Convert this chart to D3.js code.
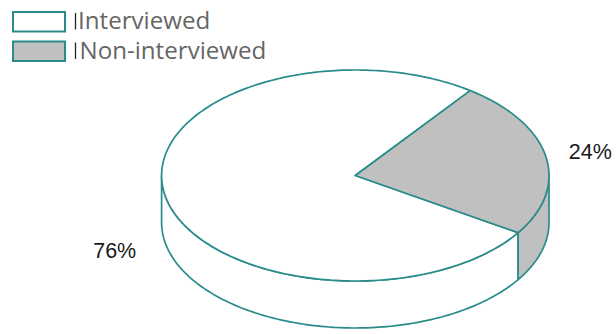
<!DOCTYPE html>
<html><head><meta charset="utf-8">
<script src="https://cdn.jsdelivr.net/npm/d3@7"></script>
<style>body{margin:0;background:#fff}svg{display:block}</style>
</head><body>
<script>
const categories = ["Interviewed", "Non-interviewed"];
const values = [76, 24];
const labels = ["76%", "24%"];
const fills = ["#ffffff", "#c0c0c0"];
const stroke = "#2a8c8a";

const W = 616, H = 334;
const svg = d3.select("body").append("svg").attr("width", W).attr("height", H);

const cx = 355.3, cy = 175.5, rx = 193.7, ry = 105.5, depth = 47;
const start = 122.8 * Math.PI / 180;
const pie = d3.pie().sort(null).value(d => d).startAngle(start).endAngle(start + 2 * Math.PI);
const arcs = pie(values);

const P = (a, dy = 0) => [cx + rx * Math.cos(a - Math.PI / 2), cy + ry * Math.sin(a - Math.PI / 2) + dy];

function arcPath(a0, a1, dy) {
  const n = Math.max(2, Math.ceil((a1 - a0) / 0.02));
  return d3.range(n + 1).map(i => P(a0 + (a1 - a0) * i / n, dy));
}

const g = svg.append("g");
arcs.forEach((d, i) => {
  [Math.PI / 2, Math.PI / 2 + 2 * Math.PI].forEach(w0 => {
    const w1 = w0 + Math.PI;
    const a0 = Math.max(d.startAngle, w0), a1 = Math.min(d.endAngle, w1);
    if (a1 > a0) {
      const top = arcPath(a0, a1, 0);
      const bot = arcPath(a0, a1, depth).reverse();
      g.append("path")
        .attr("d", "M" + top.concat(bot).map(p => p.join(",")).join("L") + "Z")
        .attr("fill", fills[i]).attr("stroke", stroke).attr("stroke-width", 1.7)
        .attr("stroke-linejoin", "round");
    }
  });
});

arcs.forEach((d, i) => {
  const pts = [[cx, cy]].concat(arcPath(d.startAngle, d.endAngle, 0));
  g.append("path")
    .attr("d", "M" + pts.map(p => p.join(",")).join("L") + "Z")
    .attr("fill", fills[i]).attr("stroke", stroke).attr("stroke-width", 1.7)
    .attr("stroke-linejoin", "round");
});

const labelPos = [[114.7, 257.7], [590.3, 158.5]];
labels.forEach((t, i) => {
  svg.append("text").attr("x", labelPos[i][0]).attr("y", labelPos[i][1])
    .attr("text-anchor", "middle")
    .attr("font-family", "Liberation Sans, Arial, sans-serif")
    .attr("font-size", 21.5).attr("fill", "#1a1a1a").text(t);
});

const leg = svg.append("g");
const legendText = [];
categories.forEach((c, i) => {
  const y = 12 + i * 29.5;
  leg.append("rect").attr("x", 13).attr("y", y).attr("width", 52).attr("height", 19.5)
    .attr("fill", fills[i]).attr("stroke", stroke).attr("stroke-width", 2);
  leg.append("line").attr("x1", 75.5).attr("x2", 75.5).attr("y1", y + 1).attr("y2", y + 17.5)
    .attr("stroke", "#222").attr("stroke-width", 1.3);
  legendText.push(leg.append("text").attr("x", i === 0 ? 78 : 79.5).attr("y", y + 17.3)
    .attr("font-family", "Open Sans, sans-serif").attr("font-size", 23)
    .attr("fill", "#666").text(c));
});
// fit legend font so "Non-interviewed" spans ~187px as in the reference
const wMeasured = legendText[1].node().getComputedTextLength();
const fs = 23 * 187 / wMeasured;
legendText.forEach(t => t.attr("font-size", fs));
</script>
</body></html>
